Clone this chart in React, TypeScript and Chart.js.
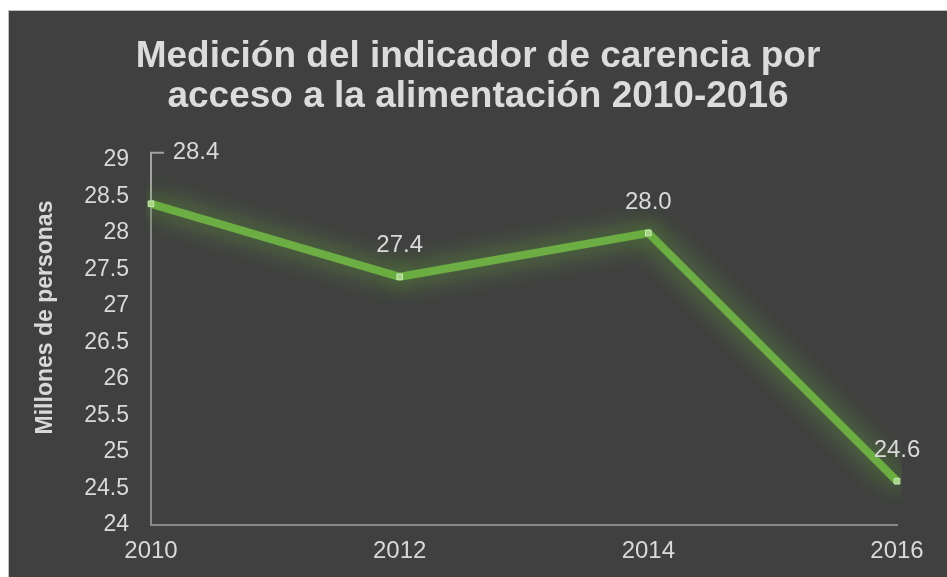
import { useEffect, useRef } from 'react';
import { Chart, registerables } from 'chart.js';

Chart.register(...registerables);

const years = ['2010', '2012', '2014', '2016'];
const personas = [28.4, 27.4, 28.0, 24.6];
const yMin = 24;
const yMax = 29;
const yStep = 0.5;
const titleLines = ['Medición del indicador de carencia por', 'acceso a la alimentación 2010-2016'];
const yAxisTitle = 'Millones de personas';

const FONT = '"Liberation Sans", Arial, sans-serif';
const TEXT = '#d9d9d9';
const AXIS = '#8a8a8a';
const GREEN = '#6cae43';

const labelsPlugin = {
  id: 'valueLabels',
  beforeDatasetsDraw(chart: any) {
    const meta = chart.getDatasetMeta(0);
    const pt = meta.data[0];
    if (!pt) return;
    const ctx = chart.ctx;
    ctx.save();
    ctx.strokeStyle = '#a3a3a3';
    ctx.lineWidth = 2;
    ctx.beginPath();
    ctx.moveTo(pt.x, pt.y);
    ctx.lineTo(pt.x, pt.y - 51);
    ctx.lineTo(pt.x + 13, pt.y - 51);
    ctx.stroke();
    ctx.restore();
  },
  afterDraw(chart: any) {
    const ctx = chart.ctx;
    const meta = chart.getDatasetMeta(0);
    ctx.save();
    ctx.font = `24px ${FONT}`;
    ctx.fillStyle = TEXT;
    ctx.textAlign = 'center';
    ctx.textBaseline = 'middle';
    meta.data.forEach((pt: any, i: number) => {
      const txt = personas[i].toFixed(1);
      if (i === 0) ctx.fillText(txt, pt.x + 45, pt.y - 51);
      else ctx.fillText(txt, pt.x, pt.y - 31);
    });
    const a = chart.chartArea;
    ctx.translate(37, (a.top + a.bottom) / 2 - 25);
    ctx.rotate(-Math.PI / 2);
    ctx.font = `bold 23px ${FONT}`;
    ctx.fillText(yAxisTitle, 0, 0);
    ctx.restore();
  },
};

const glowPlugin = {
  id: 'glow',
  beforeDatasetsDraw(chart: any) {
    const ctx = chart.ctx;
    ctx.save();
    ctx.shadowColor = 'rgba(110, 195, 60, 0.85)';
    ctx.shadowBlur = 26;
  },
  afterDatasetsDraw(chart: any) {
    chart.ctx.restore();
  },
};

export default function App() {
  const ref = useRef<HTMLCanvasElement>(null);

  useEffect(() => {
    if (!ref.current) return;
    Chart.defaults.font.family = FONT;
    const chart = new Chart(ref.current, {
      type: 'line',
      data: {
        labels: years,
        datasets: [
          {
            data: personas,
            borderColor: GREEN,
            borderWidth: 8,
            tension: 0,
            pointStyle: 'rect',
            pointRadius: 4,
            pointBackgroundColor: '#a6d686',
            pointBorderColor: '#c8e8b4',
            pointBorderWidth: 1,
            fill: false,
          },
        ],
      },
      plugins: [labelsPlugin, glowPlugin],
      options: {
        responsive: false,
        animation: false,
        devicePixelRatio: 1,
        layout: { padding: 0 },
        plugins: {
          legend: { display: false },
          tooltip: { enabled: false },
          title: {
            display: true,
            text: titleLines,
            color: '#dcdcdc',
            font: { size: 37, weight: 'bold', family: FONT, lineHeight: 40 / 37 },
            padding: { top: 26, bottom: 43 },
          },
        },
        scales: {
          x: {
            type: 'category',
            offset: false,
            grid: { display: false, drawTicks: false },
            border: { display: true, color: AXIS, width: 2 },
            ticks: {
              color: TEXT,
              font: { size: 24, family: FONT },
              padding: 12,
              maxRotation: 0,
              autoSkip: false,
            },
            afterFit(s: any) {
              s.height = 52;
            },
          },
          y: {
            min: yMin,
            max: yMax,
            grid: { display: false, drawTicks: false },
            border: { display: true, color: AXIS, width: 2 },
            ticks: {
              stepSize: yStep,
              color: TEXT,
              font: { size: 23, family: FONT },
              padding: 22,
              callback: (v: any) => String(Number(v)),
            },
            afterFit(s: any) {
              s.width = 142;
            },
          },
          y2: {
            position: 'right',
            display: true,
            grid: { display: false, drawTicks: false },
            border: { display: false },
            ticks: { display: false },
            afterFit(s: any) {
              s.width = 50;
            },
          },
        },
      } as any,
    });
    return () => chart.destroy();
  }, []);

  return (
    <div
      style={{
        position: 'fixed',
        left: 8,
        top: 10,
        width: 939,
        height: 567,
        boxSizing: 'border-box',
        borderTop: '1px solid #c0c0c0',
        borderLeft: '1px solid #c0c0c0',
        background: '#404040',
        overflow: 'hidden',
      }}
    >
      <canvas ref={ref} width={938} height={566} style={{ display: 'block' }} />
    </div>
  );
}
